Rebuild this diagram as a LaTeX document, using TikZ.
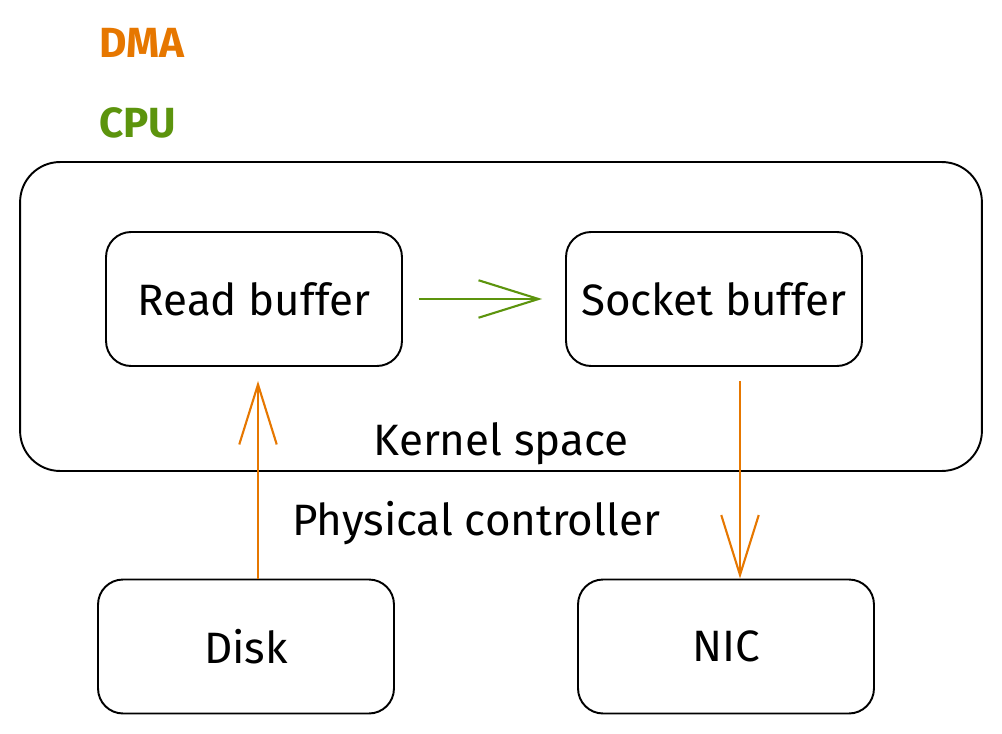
\documentclass[tikz,border=0pt]{standalone}
\usepackage{fontspec}
\setmainfont{Fira Sans}
\usetikzlibrary{arrows.meta}
\definecolor{dmaorange}{HTML}{E67700}
\definecolor{cpugreen}{HTML}{5C940D}
\tikzset{
    buffer/.style={draw,line width=1.1pt,rounded corners=0.5cm,minimum width=5.92cm,minimum height=2.68cm,font=\fontsize{25}{29}\selectfont},
    space/.style={draw,line width=1.1pt,rounded corners=0.8cm,minimum width=19.24cm,minimum height=6.18cm},
    legend/.style={anchor=west,inner sep=0pt,font=\fontsize{24}{28}\selectfont\bfseries},
    caption/.style={font=\fontsize{25}{29}\selectfont},
    transfer/.style={-{Straight Barb[length=1.2cm,width=0.75cm]},line width=1.2pt,#1}
}

\begin{document}
\begin{tikzpicture}[x=0.02cm,y=-0.02cm]
  \useasboundingbox (0,0) rectangle (1002,734);

  % Legend
  \node[legend,text=dmaorange] (dma) at (99,43) {DMA};
  \node[legend,text=cpugreen] (cpu) at (99,123) {CPU};

  % Kernel space
  \node[space] (kernel) at (501,316.5) {};
  \node[caption] (kerneltext) at (501,444) {Kernel space};
  \node[buffer] (readbuf) at (254,299) {Read buffer};
  \node[buffer] (sockbuf) at (714,299) {Socket buffer};

  % Devices
  \node[caption] (phys) at (476,523) {Physical controller};
  \node[buffer] (disk) at (246,646.5) {Disk};
  \node[buffer] (nic) at (726,646.5) {NIC};

  % Copies
  \draw[transfer=cpugreen,shorten <=0.32cm,shorten >=0.46cm] (readbuf) -- (sockbuf);
  \draw[transfer=dmaorange,shorten >=0.28cm] (disk.north -| 258,0) -- (readbuf.south -| 258,0);
  \draw[transfer=dmaorange,shorten <=0.28cm] (sockbuf.south -| 740,0) -- (nic.north -| 740,0);
\end{tikzpicture}
\end{document}
